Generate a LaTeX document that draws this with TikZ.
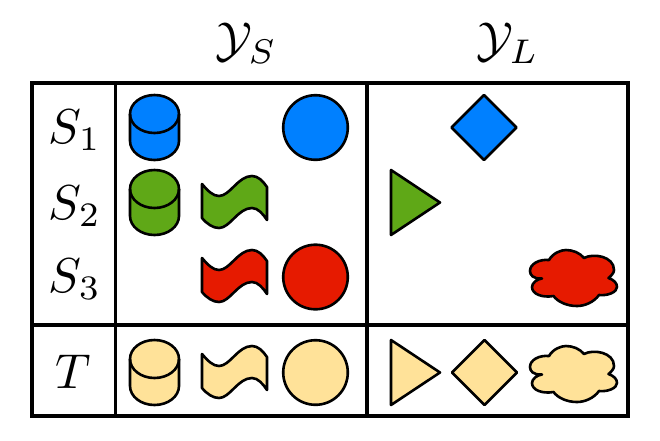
\documentclass[tikz,border=0pt]{standalone}
\definecolor{cblue}{HTML}{0080FF}
\definecolor{cgreen}{HTML}{5FA817}
\definecolor{cred}{HTML}{E61A00}
\definecolor{cyell}{HTML}{FFE299}
\tikzset{
  framel/.style={line width=3.4pt,black},
  shp/.style={draw=black,line width=2.6pt,line join=round},
  lbl/.style={inner sep=0pt,anchor=base west,scale=4.9,transform shape},
  pics/cyl/.style={code={
    \path[shp,fill=#1] (-24.5,19) -- (-24.5,46) arc[x radius=24.5,y radius=19,start angle=180,end angle=0] -- (24.5,19) arc[x radius=24.5,y radius=19,start angle=0,end angle=-180] -- cycle;
    \path[shp] (-24.5,19) arc[x radius=24.5,y radius=19,start angle=180,end angle=0];
  }},
  pics/wave/.style={code={
    \path[shp,fill=#1] (0,0) .. controls (6,7) and (11,12) .. (17,12) .. controls (28,12) and (36,-8) .. (50,-8) .. controls (56,-8) and (61,-3) .. (65,3)
      -- (65,36) .. controls (61,30) and (56,24) .. (50,24) .. controls (36,24) and (28,44) .. (17,44) .. controls (11,44) and (5,40) .. (0,34) -- cycle;
  }},
  pics/disc/.style={code={\path[shp,fill=#1] (0,0) circle[radius=32.3];}},
  pics/tri/.style={code={\path[shp,fill=#1] (0,0) -- (49,32.5) -- (0,65) -- cycle;}},
  pics/dia/.style={code={\path[shp,fill=#1] (32.5,0) -- (65,32.5) -- (32.5,65) -- (0,32.5) -- cycle;}},
  pics/cloud/.style={code={
    \path[shp,fill=#1] (12,28.5) .. controls (3,29) and (0,25) .. (0,21)
      .. controls (0,14) and (9,9) .. (19,10)
      .. controls (23,3) and (31,0) .. (36,0)
      .. controls (43,0) and (50,3) .. (54,8)
      .. controls (63,3) and (84,6) .. (84,20)
      .. controls (84,23) and (81,26) .. (78.5,28)
      .. controls (84,30) and (87,33) .. (87,37)
      .. controls (87,42) and (78,46) .. (69,45)
      .. controls (64,52) and (55,56) .. (47,56)
      .. controls (37,56) and (28,52) .. (23.5,46)
      .. controls (12,48) and (2,44) .. (2,37)
      .. controls (2,33) and (7,29) .. (12,28.5) -- cycle;
  }}
}
\begin{document}
\begin{tikzpicture}[x=1pt,y=-1pt]
\useasboundingbox (0,0) rectangle (660,440);
% frame
\coordinate (tl) at (32,83);
\coordinate (br) at (628,416);
\draw[framel] (tl) rectangle (br);
\coordinate (v1t) at (115.5,83); \coordinate (v1b) at (115.5,416);
\coordinate (v2t) at (367,83);   \coordinate (v2b) at (367,416);
\coordinate (hl) at (32,325);    \coordinate (hr) at (628,325);
\draw[framel] (v1t) -- (v1b);
\draw[framel] (v2t) -- (v2b);
\draw[framel] (hl) -- (hr);
% labels
\node[lbl] (ys) at (215,56) {$\mathcal{Y}_S$};
\node[lbl] (yl) at (476,56) {$\mathcal{Y}_L$};
\node[lbl] (s1) at (48,143) {$S_1$};
\node[lbl] (s2) at (48,219) {$S_2$};
\node[lbl] (s3) at (48,292) {$S_3$};
\node[lbl] (t)  at (55,388) {$T$};
% S1
\pic at (154.5,95) {cyl=cblue};
\pic at (315.5,127.5) {disc=cblue};
\pic at (451.5,95) {dia=cblue};
% S2
\pic at (154.5,170) {cyl=cgreen};
\pic at (202,184) {wave=cgreen};
\pic at (391,170) {tri=cgreen};
% S3
\pic at (202,258) {wave=cred};
\pic at (315.5,277) {disc=cred};
\pic at (530,250) {cloud=cred};
% T
\pic at (154.5,340) {cyl=cyell};
\pic at (202,354) {wave=cyell};
\pic at (315.5,372.5) {disc=cyell};
\pic at (391,340) {tri=cyell};
\pic at (452,340) {dia=cyell};
\pic at (530,346) {cloud=cyell};
\end{tikzpicture}
\end{document}
